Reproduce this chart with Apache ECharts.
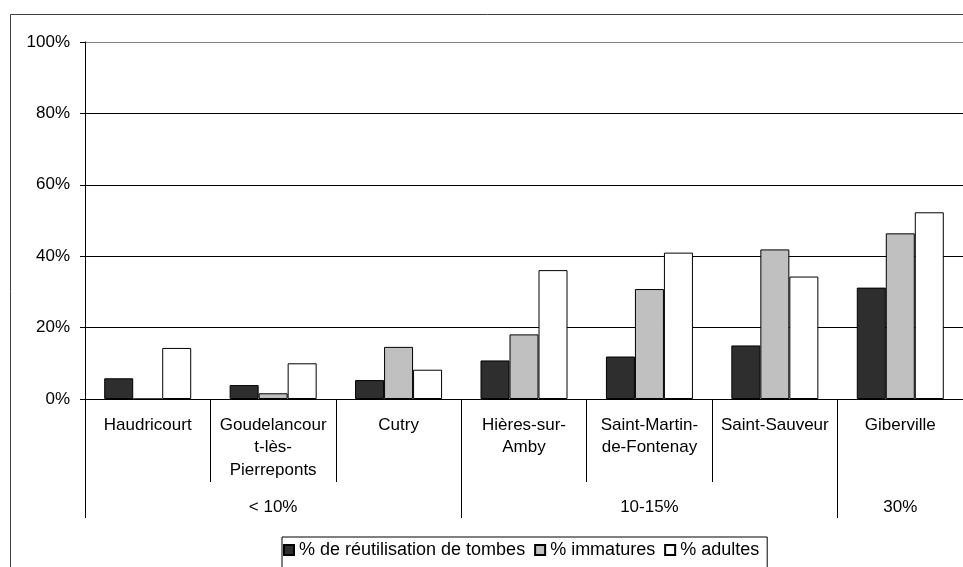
<!DOCTYPE html>
<html>
<head>
<meta charset="utf-8">
<script src="https://cdn.jsdelivr.net/npm/echarts@6/dist/echarts.min.js"></script>
<style>
  html, body { margin: 0; padding: 0; background: #fff; }
  #main { width: 963px; height: 567px; }
</style>
</head>
<body>
<div id="main"></div>
<script>
// sites, grouped by rate of tomb reuse
const sites = ['Haudricourt', 'Goudelancour\nt-lès-\nPierreponts', 'Cutry', 'Hières-sur-\nAmby', 'Saint-Martin-\nde-Fontenay', 'Saint-Sauveur', 'Giberville'];
const groupLabels = ['', '< 10%', '', '', '10-15%', '', '30%'];
const groupStarts = [0, 3, 6];

const reutilisation = [5.8, 3.9, 5.3, 10.8, 11.9, 15.0, 31.2];
const immatures = [0, 1.6, 14.6, 18.1, 30.8, 41.9, 46.4];
const adultes = [14.3, 10.0, 8.2, 36.1, 41.0, 34.3, 52.3];

const yTicks = [0, 20, 40, 60, 80, 100];

const font = 'Liberation Sans, Arial, sans-serif';
const chart = echarts.init(document.getElementById('main'), null, { renderer: 'canvas' });

function barSeries(name, data, color) {
  return {
    name: name,
    type: 'bar',
    data: data,
    barWidth: 29,
    barGap: '0%',
    itemStyle: { color: color, borderColor: '#000', borderWidth: 1 }
  };
}

var option = {
  animation: false,
  textStyle: { fontFamily: font },
  graphic: [{
    type: 'rect',
    shape: { x: 10.5, y: 14.5, width: 1000, height: 600 },
    style: { fill: 'none', stroke: '#404040', lineWidth: 1 },
    z: -1
  }],
  grid: { left: 85, right: 0, top: 42, bottom: 168, containLabel: false },
  legend: {
    left: 282,
    top: 537,
    itemWidth: 10,
    itemHeight: 10,
    itemGap: 9,
    padding: [4, 8, 12, 1],
    borderColor: '#000',
    borderWidth: 1,
    borderRadius: 0,
    icon: 'rect',
    textStyle: { fontFamily: font, fontSize: 18, color: '#000' },
    data: ['% de réutilisation de tombes', '% immatures', '% adultes']
  },
  xAxis: [{
    type: 'category',
    data: sites,
    position: 'bottom',
    axisLine: { show: true, lineStyle: { color: '#000', width: 1 } },
    axisTick: { show: true, interval: 0, length: 83, lineStyle: { color: '#000' } },
    axisLabel: {
      interval: 0,
      margin: 15,
      fontFamily: font,
      fontSize: 17,
      color: '#000',
      lineHeight: 22.5
    }
  }, {
    type: 'category',
    data: groupLabels,
    position: 'bottom',
    axisLine: { show: false },
    axisTick: {
      show: true,
      length: 119,
      interval: function (idx) { return groupStarts.indexOf(idx) >= 0; },
      lineStyle: { color: '#000' }
    },
    axisLabel: {
      interval: 0,
      margin: 100,
      fontFamily: font,
      fontSize: 17,
      lineHeight: 17,
      color: '#000'
    }
  }],
  yAxis: {
    type: 'value',
    min: yTicks[0],
    max: yTicks[yTicks.length - 1],
    interval: 20,
    axisLine: { show: true, lineStyle: { color: '#000' } },
    axisTick: { show: true, length: 5, lineStyle: { color: '#000' } },
    axisLabel: {
      formatter: '{value}%',
      fontFamily: font,
      fontSize: 17,
      color: '#000',
      margin: 15
    },
    splitLine: {
      show: true,
      lineStyle: { color: ['#000', '#000', '#000', '#000', '#000', '#808080'], width: 1 }
    }
  },
  series: [
    barSeries('% de réutilisation de tombes', reutilisation, '#2e2e2e'),
    barSeries('% immatures', immatures, '#c0c0c0'),
    barSeries('% adultes', adultes, '#ffffff')
  ]
};

chart.setOption(option);
</script>
</body>
</html>
